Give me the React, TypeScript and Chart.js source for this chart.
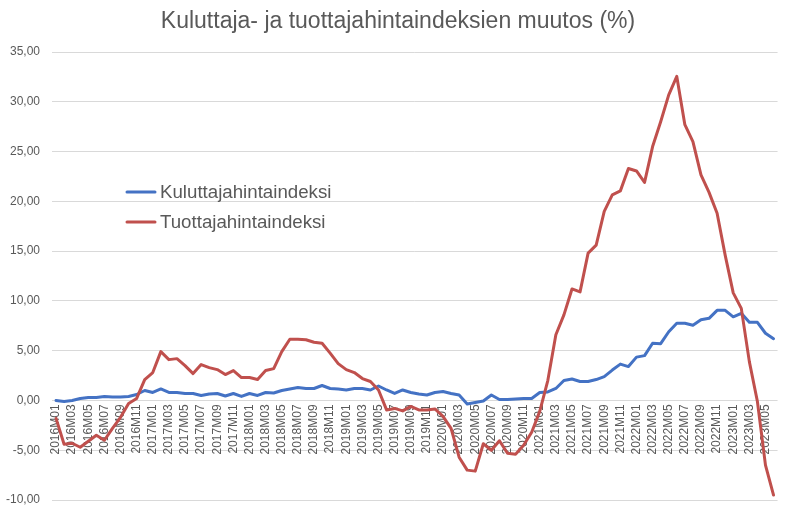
import React, { useEffect, useRef } from 'react';
import { Chart, registerables } from 'chart.js';

Chart.register(...registerables);

const TITLE = 'Kuluttaja- ja tuottajahintaindeksien muutos (%)';

const MONTHS: string[] = [
  '2016M01','2016M02','2016M03','2016M04','2016M05','2016M06','2016M07','2016M08','2016M09','2016M10','2016M11','2016M12',
  '2017M01','2017M02','2017M03','2017M04','2017M05','2017M06','2017M07','2017M08','2017M09','2017M10','2017M11','2017M12',
  '2018M01','2018M02','2018M03','2018M04','2018M05','2018M06','2018M07','2018M08','2018M09','2018M10','2018M11','2018M12',
  '2019M01','2019M02','2019M03','2019M04','2019M05','2019M06','2019M07','2019M08','2019M09','2019M10','2019M11','2019M12',
  '2020M01','2020M02','2020M03','2020M04','2020M05','2020M06','2020M07','2020M08','2020M09','2020M10','2020M11','2020M12',
  '2021M01','2021M02','2021M03','2021M04','2021M05','2021M06','2021M07','2021M08','2021M09','2021M10','2021M11','2021M12',
  '2022M01','2022M02','2022M03','2022M04','2022M05','2022M06','2022M07','2022M08','2022M09','2022M10','2022M11','2022M12',
  '2023M01','2023M02','2023M03','2023M04','2023M05','2023M06',
];

const CPI_LABEL = 'Kuluttajahintaindeksi';
const CPI: number[] = [
  0.0, -0.1, 0.0, 0.2, 0.3, 0.3, 0.4, 0.35, 0.35, 0.4, 0.6, 1.0,
  0.8, 1.15, 0.8, 0.8, 0.7, 0.7, 0.5, 0.65, 0.7, 0.45, 0.7, 0.4,
  0.7, 0.5, 0.8, 0.75, 1.0, 1.15, 1.3, 1.2, 1.2, 1.5, 1.2, 1.15,
  1.05, 1.2, 1.2, 1.05, 1.45, 1.05, 0.7, 1.05, 0.8, 0.65, 0.55, 0.8,
  0.9, 0.7, 0.55, -0.35, -0.2, -0.05, 0.55, 0.1, 0.1, 0.15, 0.2, 0.2,
  0.8, 0.85, 1.2, 2.0, 2.15, 1.9, 1.9, 2.1, 2.4, 3.05, 3.65, 3.4,
  4.35, 4.5, 5.75, 5.7, 6.9, 7.75, 7.75, 7.55, 8.1, 8.25, 9.05, 9.05,
  8.4, 8.75, 7.85, 7.85, 6.75, 6.2,
];

const PPI_LABEL = 'Tuottajahintaindeksi';
const PPI: number[] = [
  -1.8, -4.4, -4.3, -4.7, -4.1, -3.5, -4.0, -2.8, -1.7, -0.3, 0.2, 2.1,
  2.8, 4.9, 4.1, 4.2, 3.5, 2.7, 3.6, 3.3, 3.1, 2.6, 3.0, 2.3,
  2.3, 2.1, 3.0, 3.2, 4.9, 6.15, 6.15, 6.1, 5.85, 5.75, 4.75, 3.7,
  3.1, 2.8, 2.2, 1.9, 1.05, -0.95, -0.8, -1.05, -0.6, -0.95, -0.95, -0.85,
  -1.6, -2.8, -5.7, -7.0, -7.1, -4.35, -5.0, -4.05, -5.3, -5.4, -4.5, -3.2,
  -1.1, 2.0, 6.6, 8.6, 11.2, 10.9, 14.8, 15.6, 19.0, 20.65, 21.05, 23.3,
  23.05, 21.9, 25.5, 28.0, 30.7, 32.55, 27.7, 26.0, 22.65, 20.9, 18.8, 14.6,
  10.8, 9.25, 3.9, -0.1, -6.5, -9.5,
];

const Y_MIN = -10;
const Y_MAX = 35;
const Y_STEP = 5;

const BLUE = '#4472C4';
const RED = '#C0504D';
const TEXT = '#595959';
const GRID = '#D9D9D9';
const FONT = "'Liberation Sans', Arial, sans-serif";

// title and legend layout (canvas pixels)
const TITLE_X = 398;
const TITLE_Y = 22;
const TITLE_FONT = 23;
const LEGEND_X = 127;
const LEGEND_Y = [192, 222];
const LEGEND_LINE = 28;
const LEGEND_GAP = 5;
const LEGEND_FONT = 18.7;

const decorPlugin = {
  id: 'titleAndLegend',
  afterDraw(chart: any) {
    const ctx = chart.ctx as CanvasRenderingContext2D;
    ctx.save();
    ctx.fillStyle = TEXT;
    ctx.font = `${TITLE_FONT}px ${FONT}`;
    ctx.textAlign = 'center';
    ctx.textBaseline = 'middle';
    ctx.fillText(TITLE, TITLE_X, TITLE_Y);
    chart.data.datasets.forEach((ds: any, k: number) => {
      const y = LEGEND_Y[k];
      ctx.strokeStyle = ds.borderColor;
      ctx.lineWidth = 3;
      ctx.lineCap = 'round';
      ctx.beginPath();
      ctx.moveTo(LEGEND_X, y);
      ctx.lineTo(LEGEND_X + LEGEND_LINE, y);
      ctx.stroke();
      ctx.fillStyle = TEXT;
      ctx.font = `${LEGEND_FONT}px ${FONT}`;
      ctx.textAlign = 'left';
      ctx.textBaseline = 'middle';
      ctx.fillText(ds.label, LEGEND_X + LEGEND_LINE + LEGEND_GAP, y + 1);
    });
    ctx.restore();
  },
};

export default function App() {
  const ref = useRef<HTMLCanvasElement | null>(null);

  useEffect(() => {
    if (!ref.current) return;
    const chart = new Chart(ref.current, {
      type: 'line',
      data: {
        labels: MONTHS,
        datasets: [
          {
            label: CPI_LABEL,
            data: CPI,
            borderColor: BLUE,
            backgroundColor: BLUE,
            borderWidth: 3,
            pointRadius: 0,
            tension: 0,
            borderJoinStyle: 'round',
            borderCapStyle: 'round',
            order: 1,
          },
          {
            label: PPI_LABEL,
            data: PPI,
            borderColor: RED,
            backgroundColor: RED,
            borderWidth: 3,
            pointRadius: 0,
            tension: 0,
            borderJoinStyle: 'round',
            borderCapStyle: 'round',
            order: 0,
          },
        ],
      },
      options: {
        animation: false,
        responsive: true,
        maintainAspectRatio: false,
        layout: { padding: { left: 0, right: 12, top: 52, bottom: 17 } },
        plugins: {
          legend: { display: false },
          tooltip: { enabled: false },
          title: { display: false },
        },
        scales: {
          x: {
            type: 'category',
            position: { y: 0 } as any,
            offset: true,
            afterFit: (scale: any) => {
              scale.height = 0;
            },
            grid: { display: false, drawTicks: false },
            border: { display: false },
            ticks: {
              autoSkip: false,
              minRotation: 90,
              maxRotation: 90,
              padding: 4,
              color: TEXT,
              font: { family: FONT, size: 12 },
              callback: function (this: any, value: any, index: number) {
                return index % 2 === 0 ? MONTHS[index] : '';
              },
            },
          },
          y: {
            min: Y_MIN,
            max: Y_MAX,
            afterFit: (scale: any) => {
              scale.width = 52;
            },
            grid: {
              color: GRID,
              lineWidth: 1,
              drawTicks: true,
              tickLength: 12,
              tickColor: 'rgba(0,0,0,0)',
            },
            border: { display: false },
            ticks: {
              stepSize: Y_STEP,
              padding: 0,
              color: TEXT,
              font: { family: FONT, size: 12 },
              callback: (v: any) => Number(v).toFixed(2).replace('.', ','),
            },
          },
        },
      },
      plugins: [decorPlugin],
    });
    return () => chart.destroy();
  }, []);

  return (
    <div style={{ position: 'absolute', left: 0, top: 0, width: 792, height: 517, background: '#fff' }}>
      <canvas ref={ref} />
    </div>
  );
}
